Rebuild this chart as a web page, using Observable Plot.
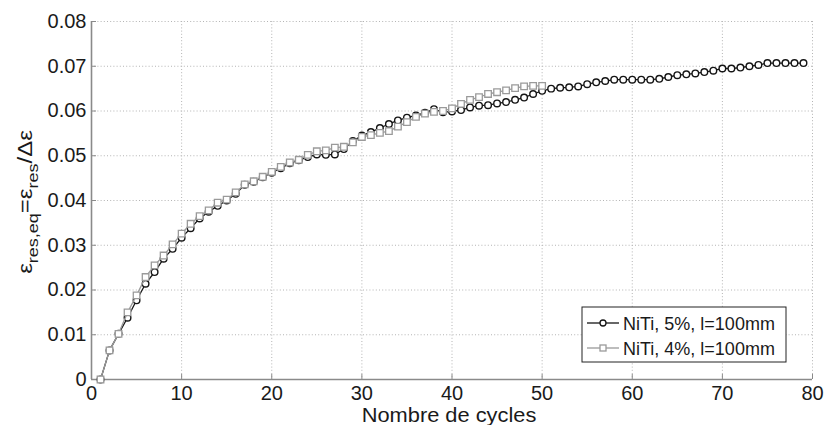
<!DOCTYPE html>
<html>
<head>
<meta charset="utf-8">
<script src="https://cdn.jsdelivr.net/npm/d3@7"></script>
<script src="https://cdn.jsdelivr.net/npm/@observablehq/plot@0.6"></script>
<style>
  html, body { margin: 0; padding: 0; background: white; }
</style>
</head>
<body>
<div id="chart"></div>
<script>
// ---- data ----
const seriesNames = ["NiTi, 5%, l=100mm", "NiTi, 4%, l=100mm"];

// NiTi 5% (cycles 1..79)
const niti5 = [
  0, 0.0065, 0.0102, 0.0138, 0.0177, 0.0214, 0.024, 0.027, 0.0292, 0.0317,
  0.0338, 0.036, 0.0375, 0.0388, 0.04, 0.0415, 0.0435, 0.0442, 0.0452, 0.0462,
  0.0472, 0.0483, 0.049, 0.0497, 0.0503, 0.0502, 0.0503, 0.0515, 0.0533, 0.0545,
  0.0553, 0.0562, 0.0571, 0.0579, 0.0585, 0.059, 0.0596, 0.0604, 0.0597, 0.0599,
  0.0602, 0.0608, 0.0612, 0.0613, 0.0617, 0.062, 0.0625, 0.063, 0.0638, 0.0645,
  0.065, 0.0652, 0.0653, 0.0655, 0.066, 0.0664, 0.0667, 0.067, 0.067, 0.067,
  0.067, 0.067, 0.0672, 0.0676, 0.068, 0.0682, 0.0684, 0.0687, 0.069, 0.0695,
  0.0695, 0.0697, 0.07, 0.0703, 0.0707, 0.0707, 0.0707, 0.0707, 0.0707
];

// NiTi 4% (cycles 1..50)
const niti4 = [
  0, 0.0065, 0.0102, 0.015, 0.0188, 0.0229, 0.0255, 0.0277, 0.0302, 0.0326,
  0.0348, 0.0365, 0.0378, 0.0395, 0.0402, 0.0418, 0.0436, 0.0443, 0.0453, 0.0464,
  0.0475, 0.0485, 0.0491, 0.0502, 0.051, 0.0512, 0.0518, 0.052, 0.053, 0.0542,
  0.0546, 0.0551, 0.0555, 0.0565, 0.0575, 0.0587, 0.0594, 0.0598, 0.06, 0.0606,
  0.0616, 0.0625, 0.0631, 0.0638, 0.0642, 0.0646, 0.0651, 0.0655, 0.0656, 0.0656
];

const xTicks = [0, 10, 20, 30, 40, 50, 60, 70, 80];
const yTicks = [0, 0.01, 0.02, 0.03, 0.04, 0.05, 0.06, 0.07, 0.08];
const yTickLabels = ["0", "0.01", "0.02", "0.03", "0.04", "0.05", "0.06", "0.07", "0.08"];
const xLabel = "Nombre de cycles";

// ---- build tables ----
const d5 = niti5.map((v, i) => ({cycle: i + 1, value: v}));
const d4 = niti4.map((v, i) => ({cycle: i + 1, value: v}));

const W = 825, H = 425;
const mL = 91, mR = 13, mT = 21, mB = 46;
const black = "#151515", gray = "#9a9a9a", axisGray = "#8a8a8a";

const svg = Plot.plot({
  width: W,
  height: H,
  marginLeft: mL, marginRight: mR, marginTop: mT, marginBottom: mB,
  style: {fontFamily: "'Liberation Sans', Arial, sans-serif", fontSize: "20px", color: "#1a1a1a", background: "white"},
  x: {domain: [0, 80]},
  y: {domain: [0, 0.08]},
  marks: [
    Plot.gridX(xTicks, {stroke: "#b4b4b4", strokeOpacity: 1, strokeDasharray: "1,2.2"}),
    Plot.gridY(yTicks, {stroke: "#b4b4b4", strokeOpacity: 1, strokeDasharray: "1,2.2"}),
    Plot.axisX(xTicks, {tickSize: -5, tickPadding: 11, stroke: axisGray, label: null, tickFormat: d => String(d)}),
    Plot.axisY(yTicks, {tickSize: -5, tickPadding: 10, stroke: axisGray, label: null, tickFormat: d => yTickLabels[yTicks.indexOf(d)]}),
    Plot.ruleY([0], {stroke: axisGray, strokeWidth: 1.6}),
    Plot.ruleX([0], {stroke: axisGray, strokeWidth: 1.6}),
    Plot.line(d5, {x: "cycle", y: "value", stroke: black, strokeWidth: 1.3}),
    Plot.dot(d5, {x: "cycle", y: "value", r: 3.3, stroke: black, fill: "white", strokeWidth: 1.4}),
    Plot.line(d4, {x: "cycle", y: "value", stroke: gray, strokeWidth: 1.3}),
    Plot.dot(d4, {x: "cycle", y: "value", symbol: "square", r: 3.7, stroke: gray, fill: "white", strokeWidth: 1.3})
  ]
});

document.getElementById("chart").appendChild(svg);

const s = d3.select(svg);

// x-axis label (slightly stretched horizontally, as in the reference)
s.append("text")
  .attr("transform", "translate(449,421.5) scale(1.12,1)")
  .attr("text-anchor", "middle")
  .attr("font-size", 19.5)
  .attr("fill", "#1a1a1a")
  .text(xLabel);

// y-axis label with subscripts
const yl = s.append("text")
  .attr("transform", "translate(32,202) rotate(-90) scale(1.2,1)")
  .attr("text-anchor", "middle")
  .attr("font-size", 20)
  .attr("fill", "#1a1a1a");
yl.append("tspan").text("ε");
yl.append("tspan").attr("font-size", 15).attr("dy", 6).text("res,eq");
yl.append("tspan").attr("dy", -6).text("=ε");
yl.append("tspan").attr("font-size", 15).attr("dy", 6).text("res");
yl.append("tspan").attr("dy", -6).text("/Δε");

// legend
const lg = s.append("g");
lg.append("rect")
  .attr("x", 582).attr("y", 307).attr("width", 204).attr("height", 55)
  .attr("fill", "white").attr("stroke", "#222").attr("stroke-width", 1);
const rows = [
  {name: seriesNames[0], color: black, sym: "circle", cy: 323},
  {name: seriesNames[1], color: gray, sym: "square", cy: 348}
];
rows.forEach(r => {
  lg.append("line").attr("x1", 587).attr("x2", 619).attr("y1", r.cy).attr("y2", r.cy)
    .attr("stroke", r.color).attr("stroke-width", 1.3);
  if (r.sym === "circle") {
    lg.append("circle").attr("cx", 603).attr("cy", r.cy).attr("r", 3)
      .attr("fill", "white").attr("stroke", r.color).attr("stroke-width", 1.3);
  } else {
    lg.append("rect").attr("x", 600).attr("y", r.cy - 3).attr("width", 6).attr("height", 6)
      .attr("fill", "white").attr("stroke", r.color).attr("stroke-width", 1.3);
  }
  lg.append("text").attr("x", 623).attr("y", r.cy + 6.5)
    .attr("text-anchor", "start")
    .attr("font-size", 18).attr("fill", "#1a1a1a").text(r.name);
});
</script>
</body>
</html>
